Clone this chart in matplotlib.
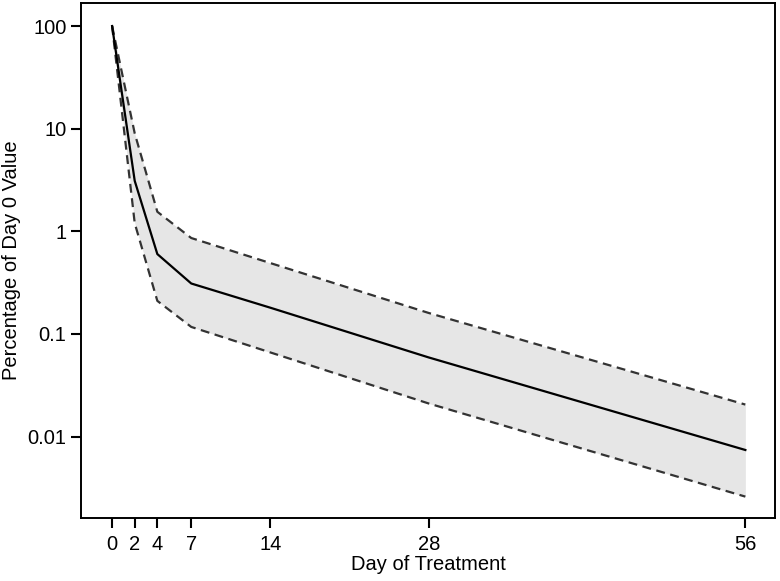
import matplotlib.pyplot as plt

plt.rcParams['font.family'] = ['Liberation Sans', 'DejaVu Sans']

# Percentage of day 0 value over the treatment period
days = [0, 2, 4, 7, 14, 28, 56]
median = [100, 3.1, 0.6, 0.31, 0.18, 0.059, 0.0074]
upper = [100, 9.0, 1.55, 0.86, 0.49, 0.16, 0.0205]
lower = [100, 1.2, 0.21, 0.117, 0.066, 0.021, 0.0026]

ytick_vals = [100, 10, 1, 0.1, 0.01]
ytick_labels = ["100", "10", "1", "0.1", "0.01"]

fig = plt.figure(figsize=(7.8, 5.81), dpi=100)
ax = fig.add_axes([0.104, 0.108, 0.890, 0.887])

ax.fill_between(days, lower, upper, color='#e6e6e6', lw=0)
ax.plot(days, upper, color='#333333', lw=1.6, dashes=(4, 2.5))
ax.plot(days, lower, color='#333333', lw=1.6, dashes=(4, 2.5))
ax.plot(days, median, color='black', lw=1.6)

ax.set_yscale('log')
ax.set_ylim(0.0016, 168)
ax.set_xlim(-2.74, 58.65)
ax.set_xticks(days)
ax.set_yticks(ytick_vals)
ax.set_yticklabels(ytick_labels)
ax.minorticks_off()
ax.tick_params(labelsize=14.5, length=7, width=1.5, color='black')
ax.tick_params(axis='x', pad=5)

for s in ax.spines.values():
    s.set_linewidth(1.4)

ax.set_xlabel("Day of Treatment", fontsize=14.5, labelpad=1)
ax.set_ylabel("Percentage of Day 0 Value", fontsize=14.5, labelpad=5)

fig.savefig("out.png", dpi=100)
